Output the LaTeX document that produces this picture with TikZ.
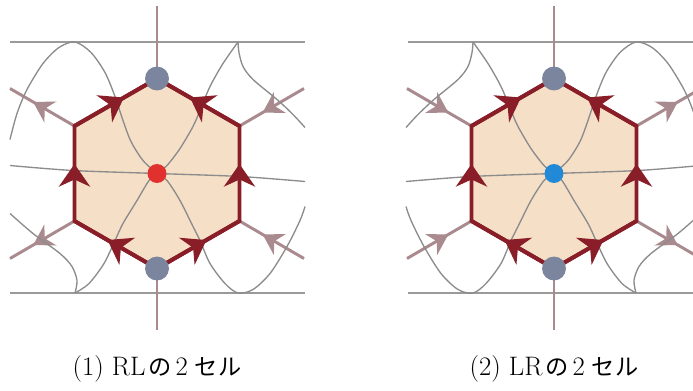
\documentclass[tikz,border=0pt]{standalone}
\usepackage{fontspec}
\newfontfamily\jpfont{Noto Sans CJK JP}
\usepackage{tikz}
\usetikzlibrary{arrows.meta,decorations.markings}
\definecolor{colFace}{HTML}{F5DFC6}
\definecolor{colEdge}{HTML}{8A1E28}
\definecolor{colLeg}{HTML}{A98A8E}
\definecolor{colStrand}{HTML}{8C8C8C}
\definecolor{colRail}{HTML}{9A9A9A}
\definecolor{colVertex}{HTML}{7B869E}
\definecolor{colRed}{HTML}{E0312F}
\definecolor{colBlue}{HTML}{2289D6}
\newcommand{\jp}[1]{{\fontsize{16.5}{19}\jpfont #1}}

\begin{document}
\begin{tikzpicture}[x=0.025cm, y=-0.025cm,
        rail/.style={draw=colRail, line width=1.2pt},
        leg/.style={draw=colLeg, line width=2.1pt},
        legarr/.style={leg, postaction={decorate}, decoration={markings,
            mark=at position 0.64 with {\arrow[colLeg]{Stealth[length=14pt, width=17pt, inset=4.5pt]}}}},
        strand/.style={draw=colStrand, line width=0.95pt},
        hexedge/.style={draw=colEdge, line width=2.8pt},
        hexarr/.style={hexedge, postaction={decorate}, decoration={markings,
            mark=at position 0.6 with {\arrow[colEdge]{Stealth[length=16pt, width=22pt, inset=5pt]}}}},
        vdot/.style={circle, fill=colVertex, inner sep=0pt, minimum size=17pt},
        cdot/.style={circle, inner sep=0pt, minimum size=13.5pt},
        caption/.style={font=\fontsize{19}{22}\selectfont}
    ]
        \useasboundingbox (0,0) rectangle (693,390);
        \clip (0,0) rectangle (693,390);

        % --- (1) RL ---
        \begin{scope}[shift={(157,173.5)}]
        \coordinate (aT) at (0,-95);  \coordinate (aUR) at (82.5,-47.5); \coordinate (aLR) at (82.5,47.5);
        \coordinate (aB) at (0,95);   \coordinate (aLL) at (-82.5,47.5); \coordinate (aUL) at (-82.5,-47.5);
        \coordinate (aN) at (0,-168); \coordinate (aS) at (0,156);
        \coordinate (aoUL) at (-147,-85); \coordinate (aoUR) at (147,-85);
        \coordinate (aoLL) at (-147,85);  \coordinate (aoLR) at (147,85);

        \draw[rail] (-147,-131.5) -- (148,-131.5);
        \draw[rail] (-147,119.5) -- (148,119.5);
        \draw[leg] (aN) -- (aT);
        \draw[leg] (aB) -- (aS);
        \draw[legarr] (aUL) -- (aoUL);
        \draw[legarr] (aLL) -- (aoLL);
        \draw[legarr] (aoUR) -- (aUR);
        \draw[legarr] (aoLR) -- (aLR);

        \fill[colFace] (aT) -- (aUR) -- (aLR) -- (aB) -- (aLL) -- (aUL) -- cycle;

        % strands
        \draw[strand] plot[smooth] coordinates {(-147,-8) (-84,-3) (0,0) (83,3) (148,8)};
        \draw[strand] plot[smooth] coordinates {(0,0) (-14,-13) (-26,-32) (-34,-53) (-42,-77) (-52,-101) (-66,-121) (-82,-131.5) (-98,-126) (-114,-110) (-130,-84) (-140,-60) (-147,-34)};
        \draw[strand] plot[smooth] coordinates {(0,0) (10,-8) (23,-25) (36,-47) (43,-63) (53,-87) (66,-110) (81,-131.5)};
        \draw[strand] plot[smooth] coordinates {(81,-131.5) (82,-121) (86,-107) (96,-94) (120,-74) (136,-59) (148,-46)};
        \draw[strand] plot[smooth] coordinates {(0,0) (-8,7) (-20,27) (-34,50) (-42,67) (-53,90) (-68,110) (-82,119.5)};
        \draw[strand] plot[smooth] coordinates {(-82,119.5) (-80,107) (-85,93) (-97,80) (-124,60) (-147,40)};
        \draw[strand] plot[smooth] coordinates {(0,0) (10,7) (23,27) (36,53) (43,67) (53,90) (68,110) (81,119.5) (96,116) (113,100) (130,73) (143,47) (148,33)};

        \draw[hexedge] (aT) -- (aUR) -- (aLR) -- (aB) -- (aLL) -- (aUL) -- cycle;
        \draw[hexarr] (aB) -- (aLL);
        \draw[hexarr] (aLL) -- (aUL);
        \draw[hexarr] (aUL) -- (aT);
        \draw[hexarr] (aB) -- (aLR);
        \draw[hexarr] (aLR) -- (aUR);
        \draw[hexarr] (aUR) -- (aT);

        \node[vdot] (aTopDot) at (aT) {};
        \node[vdot] (aBotDot) at (aB) {};
        \node[cdot, fill=colRed] (aMid) at (0,0) {};
        \node[caption] (aCap) at (0,195) {(1) RL\hspace{2pt}\jp{の}\hspace{3pt}2\hspace{5pt}\jp{セル}};
        \end{scope}

        % --- (2) LR ---
        \begin{scope}[shift={(554,173.5)}]
        \coordinate (bT) at (0,-95);  \coordinate (bUR) at (82.5,-47.5); \coordinate (bLR) at (82.5,47.5);
        \coordinate (bB) at (0,95);   \coordinate (bLL) at (-82.5,47.5); \coordinate (bUL) at (-82.5,-47.5);
        \coordinate (bN) at (0,-168); \coordinate (bS) at (0,156);
        \coordinate (boUL) at (-147,-85); \coordinate (boUR) at (147,-85);
        \coordinate (boLL) at (-147,85);  \coordinate (boLR) at (147,85);

        \draw[rail] (-146,-131.5) -- (148,-131.5);
        \draw[rail] (-146,119.5) -- (148,119.5);
        \draw[leg] (bN) -- (bT);
        \draw[leg] (bB) -- (bS);
        \draw[legarr] (boUL) -- (bUL);
        \draw[legarr] (boLL) -- (bLL);
        \draw[legarr] (bUR) -- (boUR);
        \draw[legarr] (bLR) -- (boLR);

        \fill[colFace] (bT) -- (bUR) -- (bLR) -- (bB) -- (bLL) -- (bUL) -- cycle;

        % strands
        \draw[strand] plot[smooth] coordinates {(-148,8) (-83,3) (0,0) (84,-3) (147,-8)};
        \draw[strand] plot[smooth] coordinates {(0,0) (14,-13) (26,-32) (34,-53) (42,-77) (52,-101) (66,-121) (82,-131.5) (98,-126) (114,-110) (130,-84) (140,-60) (147,-34)};
        \draw[strand] plot[smooth] coordinates {(0,0) (-10,-8) (-23,-25) (-36,-47) (-43,-63) (-53,-87) (-66,-110) (-81,-131.5)};
        \draw[strand] plot[smooth] coordinates {(-81,-131.5) (-82,-121) (-86,-107) (-96,-94) (-120,-74) (-136,-59) (-148,-46)};
        \draw[strand] plot[smooth] coordinates {(0,0) (8,7) (20,27) (34,50) (42,67) (53,90) (68,110) (82,119.5)};
        \draw[strand] plot[smooth] coordinates {(82,119.5) (80,107) (85,93) (97,80) (124,60) (147,40)};
        \draw[strand] plot[smooth] coordinates {(0,0) (-10,7) (-23,27) (-36,53) (-43,67) (-53,90) (-68,110) (-81,119.5) (-96,116) (-113,100) (-130,73) (-143,47) (-148,33)};

        \draw[hexedge] (bT) -- (bUR) -- (bLR) -- (bB) -- (bLL) -- (bUL) -- cycle;
        \draw[hexarr] (bB) -- (bLL);
        \draw[hexarr] (bLL) -- (bUL);
        \draw[hexarr] (bUL) -- (bT);
        \draw[hexarr] (bB) -- (bLR);
        \draw[hexarr] (bLR) -- (bUR);
        \draw[hexarr] (bUR) -- (bT);

        \node[vdot] (bTopDot) at (bT) {};
        \node[vdot] (bBotDot) at (bB) {};
        \node[cdot, fill=colBlue] (bMid) at (0,0) {};
        \node[caption] (bCap) at (0,195) {(2) LR\hspace{2pt}\jp{の}\hspace{3pt}2\hspace{5pt}\jp{セル}};
        \end{scope}
    \end{tikzpicture}
\end{document}
